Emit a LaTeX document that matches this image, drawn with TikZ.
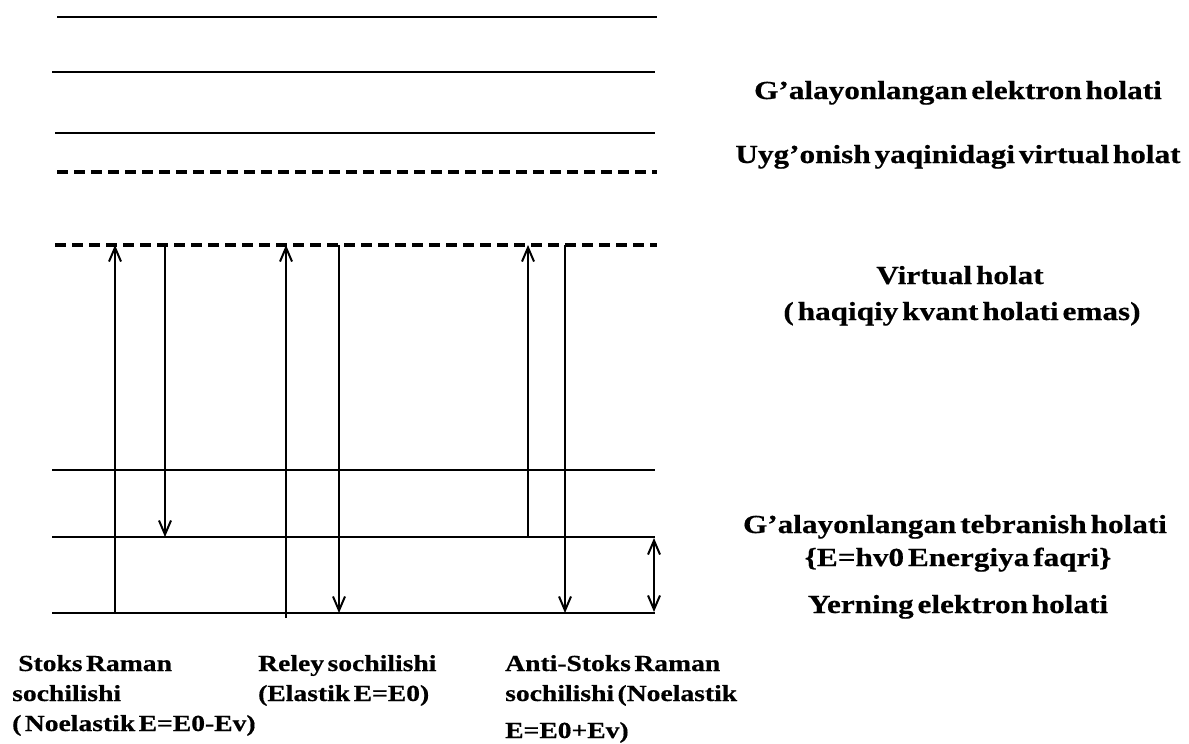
\documentclass[tikz,border=0pt]{standalone}
\usepackage{fontspec}
\setmainfont{Liberation Serif}[FakeStretch=1.2,WordSpace=0.5,BoldFeatures={FakeBold=0.5}]
\usetikzlibrary{arrows.meta}
\begin{document}
\begin{tikzpicture}[x=1pt,y=-1pt,
  level/.style={line width=2.6pt},
  virt/.style={line width=4pt,dash pattern=on 11pt off 6pt},
  trans/.style={line width=2pt,-{Straight Barb[length=14pt,width=12pt,line width=2pt]}},
  both/.style={line width=2pt,{Straight Barb[length=14pt,width=12pt,line width=2pt]}-{Straight Barb[length=14pt,width=12pt,line width=2pt]}},
  rl/.style={font=\bfseries\fontsize{26}{28}\selectfont,inner sep=0pt,anchor=base},
  bl/.style={font=\bfseries\fontsize{23}{26}\selectfont,inner sep=0pt,anchor=base west}]
\useasboundingbox (0,0) rectangle (1189,744);
% energy levels
\draw[level] (57,17) -- (657,17);
\draw[level] (52,72) -- (655,72);
\draw[level] (55,133) -- (655,133);
\draw[virt] (57,172) -- (657,172);
\draw[virt] (55,245) -- (657,245);
\draw[level] (52,470) -- (655,470);
\draw[level] (52,537) -- (655,537);
\draw[level] (52,613) -- (655,613);
% transition end points
\coordinate (s1b) at (115,613); \coordinate (s1t) at (115,245);
\coordinate (s2t) at (165,245); \coordinate (s2b) at (165,537);
\coordinate (r1b) at (286,618); \coordinate (r1t) at (286,245);
\coordinate (r2t) at (339,245); \coordinate (r2b) at (339,613);
\coordinate (a1b) at (528,537); \coordinate (a1t) at (528,245);
\coordinate (a2t) at (565,245); \coordinate (a2b) at (565,613);
\coordinate (dvt) at (654,538); \coordinate (dvb) at (654,612);
\draw[trans] (s1b) -- (s1t);
\draw[trans] (s2t) -- (s2b);
\draw[trans] (r1b) -- (r1t);
\draw[trans] (r2t) -- (r2b);
\draw[trans] (a1b) -- (a1t);
\draw[trans] (a2t) -- (a2b);
\draw[both] (dvt) -- (dvb);
% right labels
\node[rl] (t1) at (958,99) {G’alayonlangan elektron holati};
\node[rl] (t2) at (958,163) {Uyg’onish yaqinidagi virtual holat};
\node[rl] (t3) at (960,284) {Virtual holat};
\node[rl] (t4) at (962,320) {( haqiqiy kvant holati emas)};
\node[rl] (t5) at (955,533) {G’alayonlangan tebranish holati};
\node[rl] (t6) at (958,566) {\{E=hv0 Energiya faqri\}};
\node[rl] (t7) at (958,613) {Yerning elektron holati};
% bottom labels
\node[bl] (b1) at (18,671) {Stoks Raman};
\node[bl] (b2) at (12,701) {sochilishi};
\node[bl] (b3) at (12,731) {( Noelastik E=E0-Ev)};
\node[bl] (b4) at (258,671) {Reley sochilishi};
\node[bl] (b5) at (258,701) {(Elastik E=E0)};
\node[bl] (b6) at (505,671) {Anti-Stoks Raman};
\node[bl] (b7) at (505,701) {sochilishi (Noelastik};
\node[bl] (b8) at (505,738) {E=E0+Ev)};
\end{tikzpicture}
\end{document}
